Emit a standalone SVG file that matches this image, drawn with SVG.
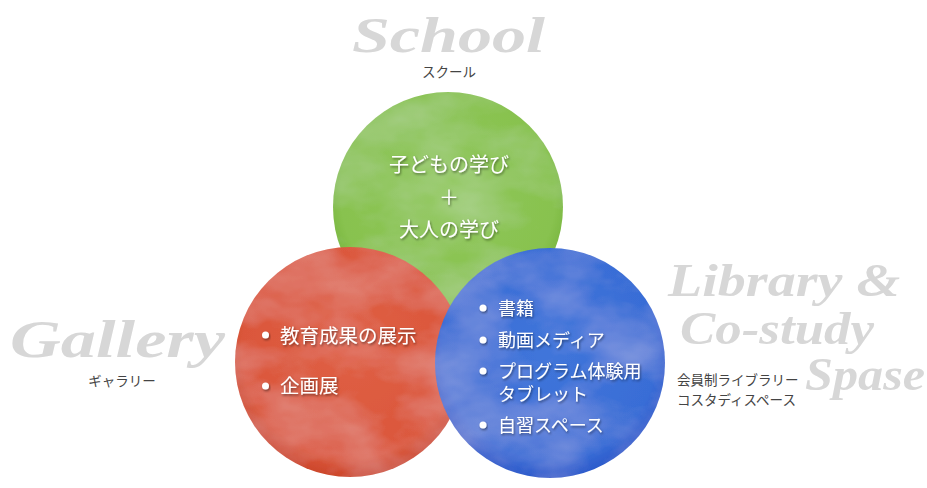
<svg xmlns="http://www.w3.org/2000/svg" width="927" height="488" viewBox="0 0 927 488">
<defs>
<style>
.title{font-family:"Liberation Serif",serif;font-style:italic;font-weight:bold;fill:#d7d7d7;}
.sub{font-family:"Noto Sans CJK JP","Noto Sans",sans-serif;font-size:13.5px;fill:#444;}
.in{font-family:"Noto Sans CJK JP","Noto Sans",sans-serif;fill:#fff;filter:url(#ts);}
.bul{fill:#fff;filter:url(#ts);}
</style>
<filter id="ts" x="-20%" y="-40%" width="140%" height="180%">
<feDropShadow dx="1" dy="1.5" stdDeviation="1.2" flood-color="#000" flood-opacity="0.45"/>
</filter>
<filter id="wc" x="-5%" y="-5%" width="110%" height="110%">
<feTurbulence type="fractalNoise" baseFrequency="0.012 0.02" numOctaves="4" seed="7" result="n"/>
<feColorMatrix in="n" type="matrix" values="0 0 0 0 1 0 0 0 0 1 0 0 0 0 1 0.3 0 0 0 -0.1" result="w"/>
<feComposite in="w" in2="SourceGraphic" operator="in" result="wi"/>
<feMerge><feMergeNode in="SourceGraphic"/><feMergeNode in="wi"/></feMerge>
</filter>
<radialGradient id="gG" cx="50%" cy="45%" r="55%">
<stop offset="0" stop-color="#8fc758"/><stop offset="0.85" stop-color="#88c24f"/><stop offset="1" stop-color="#76b43c"/>
</radialGradient>
<radialGradient id="gR" cx="50%" cy="45%" r="55%">
<stop offset="0" stop-color="#df5f45"/><stop offset="0.85" stop-color="#db573b"/><stop offset="1" stop-color="#cc472b"/>
</radialGradient>
<radialGradient id="gB" cx="50%" cy="45%" r="55%">
<stop offset="0" stop-color="#4075da"/><stop offset="0.85" stop-color="#396dd6"/><stop offset="1" stop-color="#2b5acb"/>
</radialGradient>
</defs>
<rect width="927" height="488" fill="#fff"/>

<g id="school">
<circle cx="448" cy="207" r="115" fill="url(#gG)" filter="url(#wc)"/>
<text class="in" x="449" y="172" font-size="20" text-anchor="middle">子どもの学び</text>
<text class="in" x="449" y="205" font-size="20" text-anchor="middle">＋</text>
<text class="in" x="449" y="237" font-size="20" text-anchor="middle">大人の学び</text>
</g>

<g id="gallery">
<circle cx="350" cy="362" r="115" fill="url(#gR)" filter="url(#wc)"/>
<circle class="bul" cx="265.5" cy="335" r="3.5"/>
<text class="in" x="280" y="343" font-size="19.5">教育成果の展示</text>
<circle class="bul" cx="265.5" cy="386" r="3.5"/>
<text class="in" x="280" y="393" font-size="19.5">企画展</text>
</g>

<g id="library">
<circle cx="550" cy="363" r="115" fill="url(#gB)" filter="url(#wc)"/>
<circle class="bul" cx="483" cy="308" r="3.5"/>
<text class="in" x="498" y="315" font-size="18">書籍</text>
<circle class="bul" cx="483" cy="340" r="3.5"/>
<text class="in" x="498" y="347" font-size="18">動画メディア</text>
<circle class="bul" cx="483" cy="371" r="3.5"/>
<text class="in" font-size="18"><tspan x="498" y="378">プログラム体験用</tspan><tspan x="498" y="401">タブレット</tspan></text>
<circle class="bul" cx="483" cy="425" r="3.5"/>
<text class="in" x="498" y="432" font-size="18">自習スペース</text>
</g>

<g id="label-school">
<text class="title" x="352" y="52" font-size="50" textLength="193" lengthAdjust="spacingAndGlyphs">School</text>
<text class="sub" x="449" y="77" text-anchor="middle">スクール</text>
</g>
<g id="label-gallery">
<text class="title" x="10" y="357" font-size="52" textLength="215" lengthAdjust="spacingAndGlyphs">Gallery</text>
<text class="sub" x="122" y="386" text-anchor="middle">ギャラリー</text>
</g>
<g id="label-library">
<text class="title" x="668" y="296" font-size="46" textLength="232" lengthAdjust="spacingAndGlyphs">Library &amp;</text>
<text class="title" x="680" y="344" font-size="46" textLength="194" lengthAdjust="spacingAndGlyphs">Co-study</text>
<text class="title" x="805" y="390" font-size="46" textLength="120" lengthAdjust="spacingAndGlyphs">Spase</text>
<text class="sub" x="677" y="385">会員制ライブラリー</text>
<text class="sub" x="677" y="405">コスタディスペース</text>
</g>
</svg>
